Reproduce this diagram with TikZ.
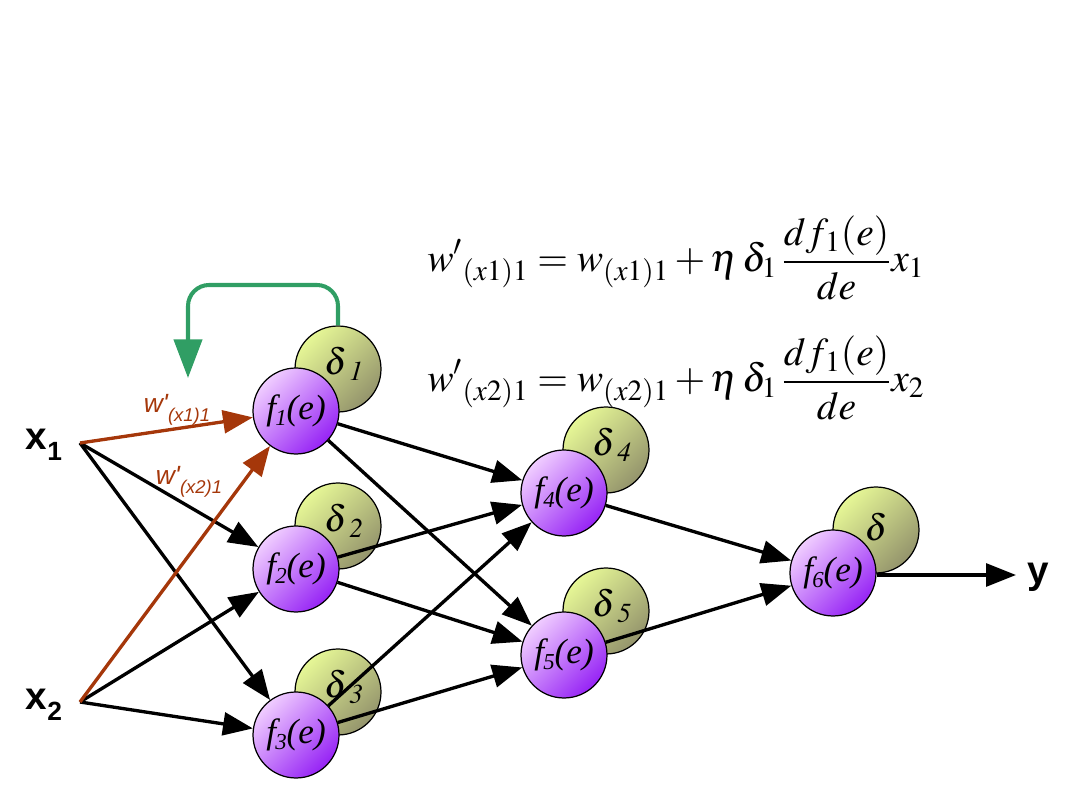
\documentclass[tikz,border=0pt]{standalone}
\usepackage{mathptmx}
\usepackage{fontspec}
\setmainfont{Liberation Serif}
\newfontfamily\labsans{Liberation Sans}
\usetikzlibrary{arrows.meta}
\definecolor{fhi}{RGB}{240,205,255}
\definecolor{flo}{RGB}{150,35,245}
\definecolor{dhi}{RGB}{230,247,150}
\definecolor{dlo}{RGB}{148,148,108}
\definecolor{wbrown}{RGB}{165,55,10}
\definecolor{fbgreen}{RGB}{48,158,100}
\newcommand\fe[1]{{\fontsize{20}{20}\selectfont\itshape f\kern-0.02em\raisebox{-0.35ex}{\fontsize{13}{13}\selectfont #1}(e)}}
\newcommand\dl[1]{{\fontsize{21}{21}\selectfont$\delta\kern1.5pt{}_{\mathit{#1}}$}}
\newcommand\wl[1]{{\labsans\itshape\fontsize{15}{15}\selectfont w'\raisebox{-5pt}{\fontsize{10.5}{10.5}\selectfont #1}}}
\newcommand\xl[1]{{\labsans\bfseries\fontsize{22}{22}\selectfont x\raisebox{-0.55ex}{\fontsize{15}{15}\selectfont #1}}}
\begin{document}
\begin{tikzpicture}[x=0.02cm,y=-0.02cm,
  fnode/.style={circle,draw=black,line width=0.7pt,minimum size=1.72cm,inner sep=0pt,top color=fhi,bottom color=flo,shading angle=45},
  dnode/.style={circle,draw=black,line width=0.7pt,minimum size=1.72cm,inner sep=0pt,top color=dhi,bottom color=dlo,shading angle=45},
  dtext/.style={inner sep=0pt},
  conn/.style={line width=1.9pt,-{Triangle[length=17pt,width=13pt]}},
  wconn/.style={conn,draw=wbrown,fill=wbrown},
  fbarrow/.style={line width=2.3pt,draw=fbgreen,rounded corners=12pt,-{Triangle[length=22pt,width=16pt,fill=fbgreen]}},
  plain/.style={inner sep=0pt}
]
\useasboundingbox (0,0) rectangle (1080,810);
% delta circles
\node[dnode] (d1) at (338,369) {};
\node[dnode] (d2) at (338,526) {};
\node[dnode] (d3) at (338,692) {};
\node[dnode] (d4) at (606,450) {};
\node[dnode] (d5) at (606,611) {};
\node[dnode] (d6) at (876,530) {};
\node[dtext] (t1) at (344,364) {\dl{1}};
\node[dtext] (t2) at (344,521) {\dl{2}};
\node[dtext] (t3) at (344,687) {\dl{3}};
\node[dtext] (t4) at (612,445) {\dl{4}};
\node[dtext] (t5) at (612,606) {\dl{5}};
\node[dtext] (t6) at (876,527) {{\fontsize{21}{21}\selectfont$\delta$}};
% f circles
\node[fnode] (f1) at (296,411) {\fe{1}};
\node[fnode] (f2) at (296,569) {\fe{2}};
\node[fnode] (f3) at (296,735) {\fe{3}};
\node[fnode] (f4) at (564,493) {\fe{4}};
\node[fnode] (f5) at (564,655) {\fe{5}};
\node[fnode] (f6) at (833,573) {\fe{6}};
% inputs / output
\node[plain] (lx1) at (44,445) {\xl{1}};
\node[plain] (lx2) at (44,705) {\xl{2}};
\node[plain] (ly) at (1038,577) {{\labsans\bfseries\fontsize{22}{22}\selectfont y}};
\coordinate (x1) at (80,443);
\coordinate (x2) at (80,702);
\coordinate (yend) at (1016,575);
% black connectors
\draw[conn] (x1) -- (f2);
\draw[conn] (x1) -- (f3);
\draw[conn] (x2) -- (f2);
\draw[conn] (x2) -- (f3);
\draw[conn] (f1) -- (f4);
\draw[conn] (f1) -- (f5);
\draw[conn] (f2) -- (f4);
\draw[conn] (f2) -- (f5);
\draw[conn] (f3) -- (f4);
\draw[conn] (f3) -- (f5);
\draw[conn] (f4) -- (f6);
\draw[conn] (f5) -- (f6);
\draw[conn] (f6.east |- yend) -- (yend);
% brown connectors
\draw[wconn] (x1) -- (f1);
\draw[wconn] (x2) -- (f1);
\node[plain,text=wbrown] (w1) at (177,410) {\wl{(x1)1}};
\node[plain,text=wbrown] (w2) at (189,482) {\wl{(x2)1}};
% feedback arrow
\coordinate (gtop) at (188,285);
\coordinate (gend) at (188,378);
\draw[fbarrow] (d1.north) |- (gtop) -- (gend);
% formulas
\node[plain,anchor=base west] (eq1) at (427,272) {\fontsize{22.5}{27}\selectfont$\displaystyle w^{\prime}{}_{(x1)1}=w_{(x1)1}+\eta\,\delta_1\,\frac{df_{\kern1pt 1}(e)}{de}x_1$};
\node[plain,anchor=base west] (eq2) at (427,392) {\fontsize{22.5}{27}\selectfont$\displaystyle w^{\prime}{}_{(x2)1}=w_{(x2)1}+\eta\,\delta_1\,\frac{df_{\kern1pt 1}(e)}{de}x_2$};
\end{tikzpicture}
\end{document}
